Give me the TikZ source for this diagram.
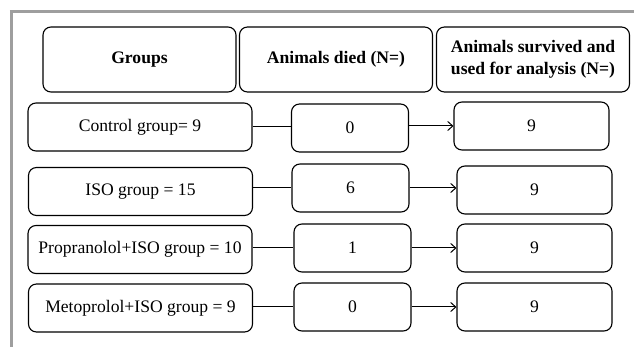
\documentclass[tikz,border=0pt]{standalone}
\usepackage{fontspec}
\setmainfont{Liberation Serif}
\usepackage{tikz}
\usetikzlibrary{arrows.meta}
\definecolor{frameGray}{gray}{0.62}

\begin{document}
\begin{tikzpicture}[x=0.5pt, y=-0.5pt,
    box/.style={draw, rounded corners=4pt, line width=0.55pt, align=center, inner sep=0pt,
      font=\fontsize{8.8}{11}\selectfont},
    head/.style={box, minimum width=96.5pt, minimum height=32.5pt,
      font=\fontsize{8.8}{11}\selectfont\bfseries},
    grpbox/.style={box, minimum width=112pt, minimum height=24pt},
    diedbox/.style={box, minimum width=58.5pt, minimum height=24pt},
    survbox/.style={box, minimum width=77.5pt, minimum height=24pt},
    link/.style={line width=0.5pt},
    flow/.style={link, -{Straight Barb[length=2.5pt, width=4.5pt]}}]
  \useasboundingbox (0,0) rectangle (634,347);
  \draw[frameGray, line width=1.5pt] (10,12) -- (634,12);
  \draw[frameGray, line width=1.5pt] (11.5,12) -- (11.5,347);

  % headers
  \node[head] (hgrp) at (139.5,59.5) {Groups};
  \node[head] (hdied) at (336,59.5) {Animals died (N=)};
  \node[head] (hsurv) at (533,59.5) {Animals survived and\\used for analysis (N=)};

  % group boxes
  \node[grpbox] (grpCtrl) at (140,127) {Control group= 9};
  \node[grpbox] (grpIso) at (140.5,191.5) {ISO group = 15};
  \node[grpbox] (grpProp) at (140,249.5) {Propranolol+ISO group = 10};
  \node[grpbox] (grpMeto) at (140.5,308) {Metoprolol+ISO group = 9};

  % died
  \node[diedbox] (diedCtrl) at (350,128) {0};
  \node[diedbox] (diedIso) at (350.5,188) {6};
  \node[diedbox] (diedProp) at (352.5,248) {1};
  \node[diedbox] (diedMeto) at (352.5,307) {0};

  % survived
  \node[survbox] (survCtrl) at (531.5,126) {9};
  \node[survbox] (survIso) at (534.5,190) {9};
  \node[survbox] (survProp) at (534.5,248) {9};
  \node[survbox] (survMeto) at (534.5,307) {9};

  \draw[link] (grpCtrl.east) -- (grpCtrl.east -| diedCtrl.west);
  \draw[link] (grpIso.east |- diedIso.west) -- (diedIso.west);
  \draw[link] (grpProp.east |- diedProp.west) -- (diedProp.west);
  \draw[link] (grpMeto.east |- diedMeto.west) -- (diedMeto.west);

  \draw[flow] (diedCtrl.east |- survCtrl.west) -- (survCtrl.west);
  \draw[flow] (diedIso.east) -- (diedIso.east -| survIso.west);
  \draw[flow] (diedProp.east) -- (diedProp.east -| survProp.west);
  \draw[flow] (diedMeto.east) -- (diedMeto.east -| survMeto.west);
\end{tikzpicture}
\end{document}
